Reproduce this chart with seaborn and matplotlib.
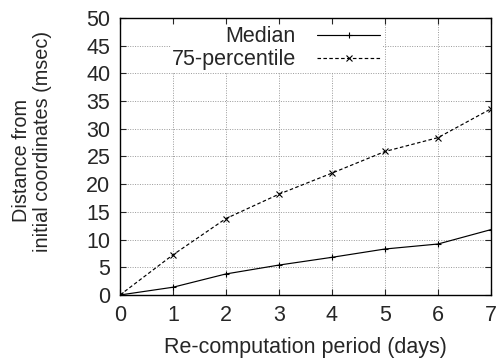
import numpy as np
import pandas as pd
import seaborn as sns
import matplotlib
matplotlib.use('Agg')
import matplotlib.pyplot as plt

days = [0, 1, 2, 3, 4, 5, 6, 7]
median = [0, 1.4, 3.8, 5.4, 6.8, 8.3, 9.2, 11.8]
p75 = [0, 7.25, 13.8, 18.2, 22.0, 25.9, 28.4, 33.6]
series_names = ['Median', '75-percentile']

sns.set_style('ticks')
plt.rcParams['font.family'] = ['Liberation Sans', 'DejaVu Sans']

df = pd.DataFrame({
    'day': days * 2,
    'value': median + p75,
    'series': [series_names[0]] * len(days) + [series_names[1]] * len(days),
})

W, H = 501, 364
fig = plt.figure(figsize=(W / 100, H / 100), dpi=100)
ax = fig.add_axes([0.2395, 0.1896, 0.7405, 0.7610])

sns.lineplot(data=df, x='day', y='value', style='series', ax=ax,
             color='black', linewidth=0.85, markers=['+', 'x'],
             dashes=['', (3, 2)], markersize=4, markeredgewidth=0.8,
             markeredgecolor='black', legend=True)

ax.set_xlim(0, 7)
ax.set_ylim(0, 50)
ax.set_xticks(range(0, 8))
ax.set_yticks(range(0, 51, 5))
ax.grid(True, color='#999999', linestyle=(0, (1, 1.5)), linewidth=0.7)
ax.tick_params(direction='in', length=4, width=0.8, labelsize=15.5,
               top=True, right=True, pad=7)
for s in ax.spines.values():
    s.set_linewidth(1.0)
    s.set_color('black')

ax.set_xlabel('Re-computation period (days)', fontsize=15.5, labelpad=8)
ax.set_ylabel('')
# two-line y label, placed like the original
fig.text(22 / W, 1 - 161 / H, 'Distance from', rotation=90,
         ha='center', va='center', fontsize=14.3)
fig.text(43 / W, 1 - 141 / H, 'initial coordinates (msec)', rotation=90,
         ha='center', va='center', fontsize=14.3)

handles, labels = ax.get_legend_handles_labels()
leg = ax.legend(handles, labels, loc='upper left', markerfirst=False,
                frameon=True, fontsize=15.5, handlelength=2.9,
                handletextpad=1.0, borderpad=0.05, labelspacing=0.08,
                bbox_to_anchor=(0.0, 1.0), alignment='right')
leg.get_frame().set_edgecolor('white')
leg.get_frame().set_facecolor('white')
leg.get_frame().set_alpha(1.0)
leg.get_frame().set_boxstyle('square', pad=0.0)
for t in leg.get_texts():
    t.set_ha('right')

fig.canvas.draw()
bb = leg.get_window_extent()
dx = (381 - bb.x1) / ax.bbox.width
leg.set_bbox_to_anchor((dx, 1.012), transform=ax.transAxes)

fig.savefig('out.png', dpi=100)
